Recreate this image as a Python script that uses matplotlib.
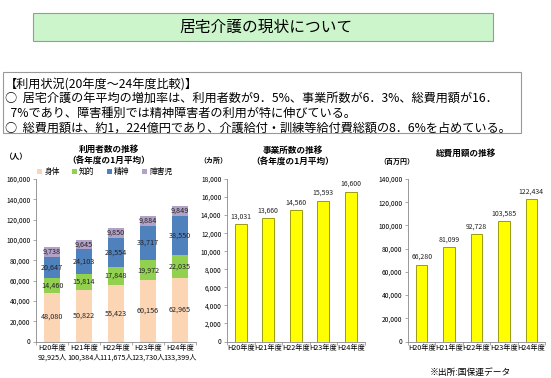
import numpy as np
import matplotlib.pyplot as plt
from matplotlib.patches import Rectangle

plt.rcParams['font.family'] = ['Noto Sans CJK JP', 'DejaVu Sans']

# -- data --
years = ['H20年度', 'H21年度', 'H22年度', 'H23年度', 'H24年度']
totals = ['92,925人', '100,384人', '111,675人', '123,730人', '133,399人']
series_names = ['身体', '知的', '精神', '障害児']
shintai = [48080, 50822, 55423, 60156, 62965]
chiteki = [14460, 15814, 17848, 19972, 22035]
seishin = [20647, 24103, 28554, 33717, 38550]
shogaiji = [9738, 9645, 9850, 9884, 9849]
offices = [13031, 13660, 14560, 15593, 16600]
cost = [66280, 81099, 92728, 103585, 122434]

STACK_COLORS = ['#fcd5b5', '#92d050', '#4f81bd', '#b3a2c7']
YELLOW = '#ffff00'

W, H = 551, 378
fig = plt.figure(figsize=(W / 100, H / 100), dpi=100)


def px_axes(x0, y_top, x1, y_bot):
    # pixel box -> figure axes
    return fig.add_axes([x0 / W, 1 - y_bot / H, (x1 - x0) / W, (y_bot - y_top) / H])


def px(x, y):
    return x / W, 1 - y / H


def style_axis(ax, ymax, step):
    ax.set_xlim(-0.5, 4.5)
    ax.set_ylim(0, ymax)
    ax.set_yticks(np.arange(0, ymax + 1, step))
    ax.set_yticklabels([f'{v:,}' for v in np.arange(0, ymax + 1, step)], fontsize=4.8)
    for s in ['top', 'right']:
        ax.spines[s].set_visible(False)
    for s in ['left', 'bottom']:
        ax.spines[s].set_color('#888888')
        ax.spines[s].set_linewidth(0.6)
    ax.tick_params(axis='y', length=2, width=0.5, color='#888888', pad=2)
    ax.set_xticks(np.arange(5))
    ax.tick_params(axis='x', length=0, pad=2)
    ax.set_xticks(np.arange(-0.5, 5, 1), minor=True)
    ax.tick_params(axis='x', which='minor', length=2.5, width=0.5, color='#888888')


# -- header boxes --
fig.patches.append(Rectangle(px(33, 41), 460 / W, 28 / H, transform=fig.transFigure,
                             facecolor='#ccf5cc', edgecolor='#999999', linewidth=0.8))
fig.text(266 / W, 1 - 27 / H, '居宅介護の現状について', ha='center', va='center', fontsize=11.3)

fig.patches.append(Rectangle(px(3, 133), 518 / W, 61 / H, transform=fig.transFigure,
                             facecolor='white', edgecolor='#999999', linewidth=0.8))
lines = ['【利用状況(20年度～24年度比較)】',
         '○  居宅介護の年平均の増加率は、利用者数が9．5%、事業所数が6．3%、総費用額が16．',
         '  7%であり、障害種別では精神障害者の利用が特に伸びている。',
         '○  総費用額は、約1，224億円であり、介護給付・訓練等給付費総額の8．6%を占めている。']
for i, t in enumerate(lines):
    fig.text(5 / W, 1 - (84 + i * 14.7) / H, t, ha='left', va='center', fontsize=8.75)

# -- chart 1: stacked users --
ax1 = px_axes(36, 179, 196, 341.5)
x = np.arange(5)
bottom = np.zeros(5)
for name, vals, col in zip(series_names, [shintai, chiteki, seishin, shogaiji], STACK_COLORS):
    ax1.bar(x, vals, width=0.47, bottom=bottom, color=col, label=name)
    for xi, b, v in zip(x, bottom, vals):
        ax1.text(xi, b + v / 2, f'{v:,}', ha='center', va='center', fontsize=5.2, color='#222222')
    bottom += np.array(vals)
style_axis(ax1, 160000, 20000)
ax1.set_xticklabels([f'{y}\n{t}' for y, t in zip(years, totals)], fontsize=5.2, linespacing=1.3)
ax1.legend(loc='lower center', bbox_to_anchor=(0.43, 0.99), ncol=4, fontsize=5.6, frameon=False,
           handlelength=0.6, handleheight=0.6, handletextpad=0.3, columnspacing=1.6, borderpad=0.1)
fig.text(109 / W, 1 - 154.5 / H, '利用者数の推移\n（各年度の1月平均）', ha='center', va='center',
         fontsize=6.2, fontweight='bold', linespacing=1.3)
fig.text(16 / W, 1 - 157 / H, '（人）', ha='center', va='center', fontsize=5.5, fontweight='bold')

# -- chart 2: offices --
ax2 = px_axes(227, 179, 364.5, 341.5)
ax2.bar(x, offices, width=0.42, color=YELLOW, edgecolor='#8c8c00', linewidth=0.6)
for xi, v in zip(x, offices):
    ax2.text(xi, v + 400, f'{v:,}', ha='center', va='bottom', fontsize=5, color='#222222')
style_axis(ax2, 18000, 2000)
ax2.set_xticklabels(years, fontsize=5.2)
fig.text(293 / W, 1 - 156 / H, '事業所数の推移\n（各年度の1月平均）', ha='center', va='center',
         fontsize=6.2, fontweight='bold', linespacing=1.3)
fig.text(213 / W, 1 - 160 / H, '（カ所）', ha='center', va='center', fontsize=5, fontweight='bold')

# -- chart 3: total cost --
ax3 = px_axes(408, 179, 545, 341.5)
ax3.bar(x, cost, width=0.42, color=YELLOW, edgecolor='#8c8c00', linewidth=0.6)
for xi, v in zip(x, cost):
    ax3.text(xi, v + 3000, f'{v:,}', ha='center', va='bottom', fontsize=5, color='#222222')
style_axis(ax3, 140000, 20000)
ax3.set_xticklabels(years, fontsize=5.2)
fig.text(466 / W, 1 - 153 / H, '総費用額の推移', ha='center', va='center', fontsize=6.2, fontweight='bold')
fig.text(397 / W, 1 - 161 / H, '（百万円）', ha='center', va='center', fontsize=5, fontweight='bold')

fig.text(470 / W, 1 - 372 / H, '※出所:国保連データ', ha='center', va='center', fontsize=6.3)

fig.savefig('out.png', dpi=100)
